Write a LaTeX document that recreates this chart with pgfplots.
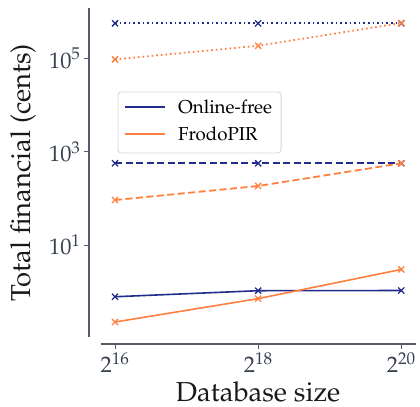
\documentclass[border=0pt]{standalone}
\usepackage[T1]{fontenc}
\usepackage{mathpazo}
\usepackage{pgfplots}
\pgfplotsset{compat=1.18}
\definecolor{navyline}{RGB}{33,43,140}
\definecolor{orangeline}{RGB}{255,127,62}
\definecolor{spine}{RGB}{85,92,104}
\definecolor{ticktext}{RGB}{55,64,80}
\definecolor{legendedge}{RGB}{215,215,215}

\begin{document}
\begin{tikzpicture}
\begin{axis}[
  scale only axis, width=314.9bp, height=328.6bp,
  xmode=log, ymode=log, log basis x=2, log basis y=10,
  xmin=57053, xmax=1204498,
  ymin=0.107, ymax=1.175e6,
  axis x line*=bottom, axis y line*=left,
  axis x line shift=7bp, axis y line shift=11.7bp,
  axis line style={spine, line width=1.1bp, -},
  tick align=outside, major tick length=5bp,
  tick style={spine, line width=1bp},
  xtick={65536,262144,1048576},
  ytick={10,1000,100000},
  xminorticks=false, yminorticks=false,
  ticklabel style={font=\fontsize{22.5}{26}\selectfont, text=ticktext},
  xlabel={Database size},
  ylabel={Total financial (cents)},
  xlabel style={at={(axis description cs:0.5,-0.196)}, anchor=base, font=\fontsize{27.5}{30}\selectfont, text=black!90},
  ylabel style={at={(axis description cs:-0.2467,0.5)}, anchor=center, font=\fontsize{27.5}{30}\selectfont, text=black!90},
  clip=false,
  every axis plot/.append style={mark=x, mark size=4.3bp, mark options={solid, line width=1.3bp}},
]
% totals for each database size (solid)
\addplot[navyline, line width=1.6bp] coordinates {(65536,0.78) (262144,1.05) (1048576,1.06)};
\addplot[orangeline, line width=1.6bp] coordinates {(65536,0.224) (262144,0.71) (1048576,3.0)};
% dashed
\addplot[navyline, line width=1.8bp, dash pattern=on 7bp off 3.5bp] coordinates {(65536,564) (262144,564) (1048576,564)};
\addplot[orangeline, line width=1.8bp, dash pattern=on 7bp off 3.5bp] coordinates {(65536,92) (262144,184) (1048576,564)};
% dotted
\addplot[navyline, line width=1.8bp, dash pattern=on 1.6bp off 3bp] coordinates {(65536,5.62e5) (262144,5.62e5) (1048576,5.62e5)};
\addplot[orangeline, line width=1.8bp, dash pattern=on 1.6bp off 3bp] coordinates {(65536,9.5e4) (262144,1.86e5) (1048576,5.7e5)};
% legend box with one line sample per method
\draw[legendedge, line width=0.9bp, rounded corners=3bp, fill=white, fill opacity=0.8]
  (axis description cs:0.0549,0.7456) rectangle (axis description cs:0.5727,0.5600);
\draw[navyline, line width=2.2bp] (axis description cs:0.0772,0.7000) -- (axis description cs:0.2042,0.7000);
\draw[orangeline, line width=2.2bp] (axis description cs:0.0772,0.6178) -- (axis description cs:0.2042,0.6178);
\node[anchor=west, inner sep=0pt, font=\fontsize{18.8}{22}\selectfont] at (axis description cs:0.2455,0.7000) {Online-free};
\node[anchor=west, inner sep=0pt, font=\fontsize{18.8}{22}\selectfont] at (axis description cs:0.2455,0.6178) {FrodoPIR};
\end{axis}
\pgfresetboundingbox
\useasboundingbox (-100.7bp,-70bp) rectangle (319.3bp,337bp);
\end{tikzpicture}
\end{document}
